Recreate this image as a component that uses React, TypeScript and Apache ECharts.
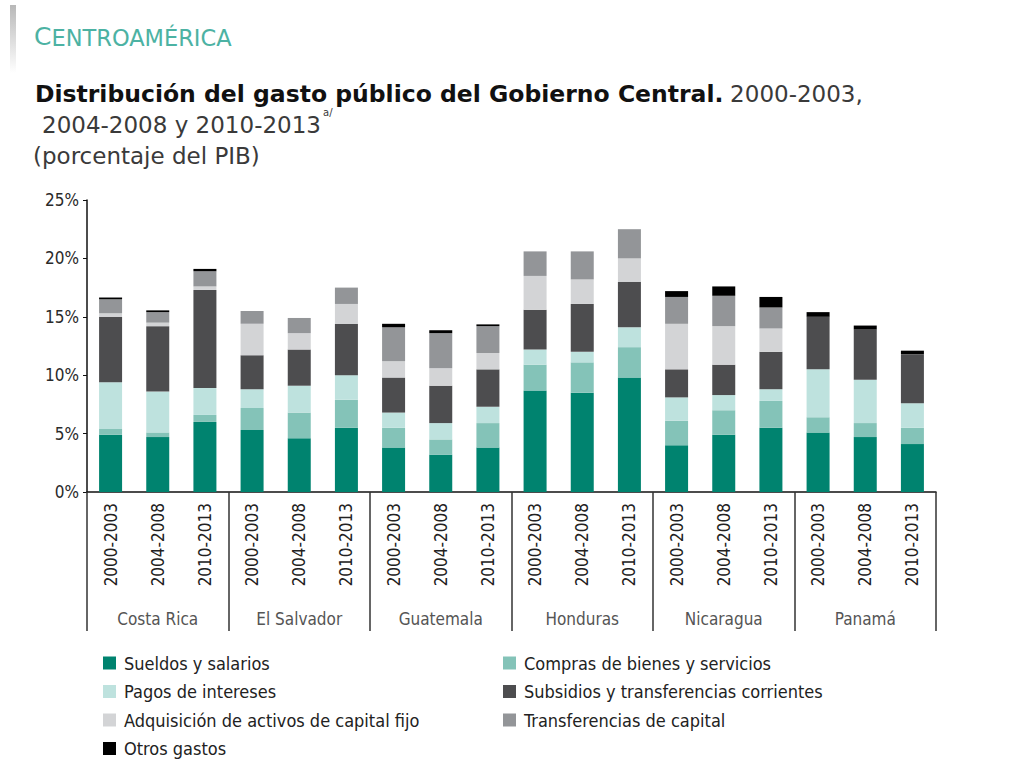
import React, { useEffect, useRef } from "react";
import * as echarts from "echarts";

const countries = ["Costa Rica", "El Salvador", "Guatemala", "Honduras", "Nicaragua", "Panamá"];
const periods = ["2000-2003", "2004-2008", "2010-2013"];
const categories = countries.flatMap(() => periods);

const seriesNames = [
  "Sueldos y salarios",
  "Compras de bienes y servicios",
  "Pagos de intereses",
  "Subsidios y transferencias corrientes",
  "Adquisición de activos de capital fijo",
  "Transferencias de capital",
  "Otros gastos",
];

const sueldos = [4.9, 4.7, 6.0, 5.3, 4.6, 5.5, 3.8, 3.2, 3.8, 8.7, 8.5, 9.8, 4.0, 4.9, 5.5, 5.1, 4.7, 4.1];
const compras = [0.5, 0.4, 0.6, 1.9, 2.2, 2.4, 1.7, 1.3, 2.1, 2.2, 2.6, 2.6, 2.1, 2.1, 2.3, 1.3, 1.2, 1.4];
const intereses = [4.0, 3.5, 2.3, 1.6, 2.3, 2.1, 1.3, 1.4, 1.4, 1.3, 0.9, 1.7, 2.0, 1.3, 1.0, 4.1, 3.7, 2.1];
const subsidios = [5.6, 5.6, 8.4, 2.9, 3.1, 4.4, 3.0, 3.2, 3.2, 3.4, 4.1, 3.9, 2.4, 2.6, 3.2, 4.5, 4.3, 4.2];
const adquisicion = [0.3, 0.3, 0.3, 2.7, 1.4, 1.7, 1.4, 1.5, 1.4, 2.9, 2.1, 2.0, 3.9, 3.3, 2.0, 0, 0, 0];
const transferencias = [1.2, 0.9, 1.3, 1.1, 1.3, 1.4, 2.9, 3.0, 2.3, 2.1, 2.4, 2.5, 2.3, 2.6, 1.8, 0, 0, 0];
const otros = [0.15, 0.15, 0.2, 0, 0, 0, 0.3, 0.25, 0.15, 0, 0, 0, 0.5, 0.8, 0.9, 0.4, 0.35, 0.3];

const yTicks = { min: 0, max: 25, interval: 5 };

const seriesData = [sueldos, compras, intereses, subsidios, adquisicion, transferencias, otros];
const colors = ["#00836f", "#84c3b8", "#bee2de", "#4d4d4f", "#d3d4d6", "#939598", "#000000"];

const COND = "'Liberation Sans Narrow', 'DejaVu Sans Condensed', 'Roboto Condensed', 'Arial Narrow', sans-serif";
const DV = "'DejaVu Sans', 'Open Sans', sans-serif";

export default function App() {
  const ref = useRef<HTMLDivElement>(null);
  useEffect(() => {
    if (!ref.current) return;
    const chart = echarts.init(ref.current, null, { renderer: "svg" });
    const legendCommon = {
      orient: "vertical",
      itemWidth: 13,
      itemHeight: 13,
      itemGap: 8.5,
      padding: 0,
      icon: "rect",
      selectedMode: false,
      textStyle: { fontFamily: COND, fontSize: 18, color: "#222", lineHeight: 20, padding: [0, 0, 0, 3] },
    };
    chart.setOption({
      animation: false,
      backgroundColor: "#ffffff",
      grid: { left: 87, right: 88, top: 200, bottom: 269, containLabel: false },
      legend: [
        { ...legendCommon, left: 103, top: 653, data: [seriesNames[0], seriesNames[2], seriesNames[4], seriesNames[6]] },
        { ...legendCommon, left: 503, top: 653, data: [seriesNames[1], seriesNames[3], seriesNames[5]] },
      ],
      xAxis: [
        {
          type: "category",
          data: categories,
          position: "bottom",
          axisLine: { show: true, lineStyle: { color: "#111", width: 1.5 } },
          axisTick: { show: false },
          axisLabel: { interval: 0, rotate: 90, margin: 11, fontFamily: COND, fontSize: 17, color: "#222" },
        },
        {
          type: "category",
          data: countries,
          position: "bottom",
          axisLine: { show: false },
          axisTick: { show: true, interval: 0, length: 139, lineStyle: { color: "#333", width: 1.5 } },
          axisLabel: { interval: 0, margin: 118, fontFamily: COND, fontSize: 17, color: "#555" },
        },
      ],
      yAxis: {
        type: "value",
        min: yTicks.min,
        max: yTicks.max,
        interval: yTicks.interval,
        axisLine: { show: true, lineStyle: { color: "#111", width: 1.5 } },
        axisTick: { show: true, length: 4, lineStyle: { color: "#111" } },
        splitLine: { show: false },
        axisLabel: { formatter: "{value}%", margin: 8, fontFamily: COND, fontSize: 17, color: "#2a2a2a" },
      },
      series: seriesNames.map((name, i) => ({
        name,
        type: "bar",
        stack: "total",
        xAxisIndex: 0,
        barWidth: 23,
        itemStyle: { color: colors[i] },
        data: seriesData[i],
      })),
      graphic: [
        {
          type: "rect",
          shape: { x: 10, y: 5, width: 6, height: 68 },
          style: {
            fill: new echarts.graphic.LinearGradient(0, 0, 0, 1, [
              { offset: 0, color: "#b8b8b8" },
              { offset: 1, color: "#ffffff" },
            ]),
          },
        },
        {
          type: "text",
          x: 34,
          y: 49,
          style: {
            text: "{a|C}{b|ENTROAMÉRICA}",
            textVerticalAlign: "bottom",
            rich: {
              a: { fontFamily: DV, fontSize: 25, fill: "#4cb2a3", verticalAlign: "bottom" },
              b: { fontFamily: DV, fontSize: 22.5, fill: "#4cb2a3", verticalAlign: "bottom" },
            },
          },
        },
        {
          type: "text",
          x: 35,
          y: 94,
          style: {
            text: "{t|Distribución del gasto público del Gobierno Central.}  {n|2000-2003,}",
            textVerticalAlign: "middle",
            rich: {
              t: { fontFamily: DV, fontSize: 23.5, fontWeight: "bold", fill: "#111" },
              n: { fontFamily: DV, fontSize: 23, fill: "#3a3a3a" },
            },
          },
        },
        {
          type: "text",
          x: 42,
          y: 125,
          style: { text: "2004-2008 y 2010-2013", fontFamily: DV, fontSize: 23, fill: "#3a3a3a", textVerticalAlign: "middle" },
        },
        {
          type: "text",
          x: 323,
          y: 112,
          style: { text: "a/", fontFamily: DV, fontSize: 10, fill: "#3a3a3a", textVerticalAlign: "middle" },
        },
        {
          type: "text",
          x: 33,
          y: 156,
          style: { text: "(porcentaje del PIB)", fontFamily: DV, fontSize: 23, fill: "#3a3a3a", textVerticalAlign: "middle" },
        },
      ],
    });
    return () => chart.dispose();
  }, []);
  return <div ref={ref} style={{ position: "absolute", left: 0, top: 0, width: 1024, height: 761 }} />;
}
